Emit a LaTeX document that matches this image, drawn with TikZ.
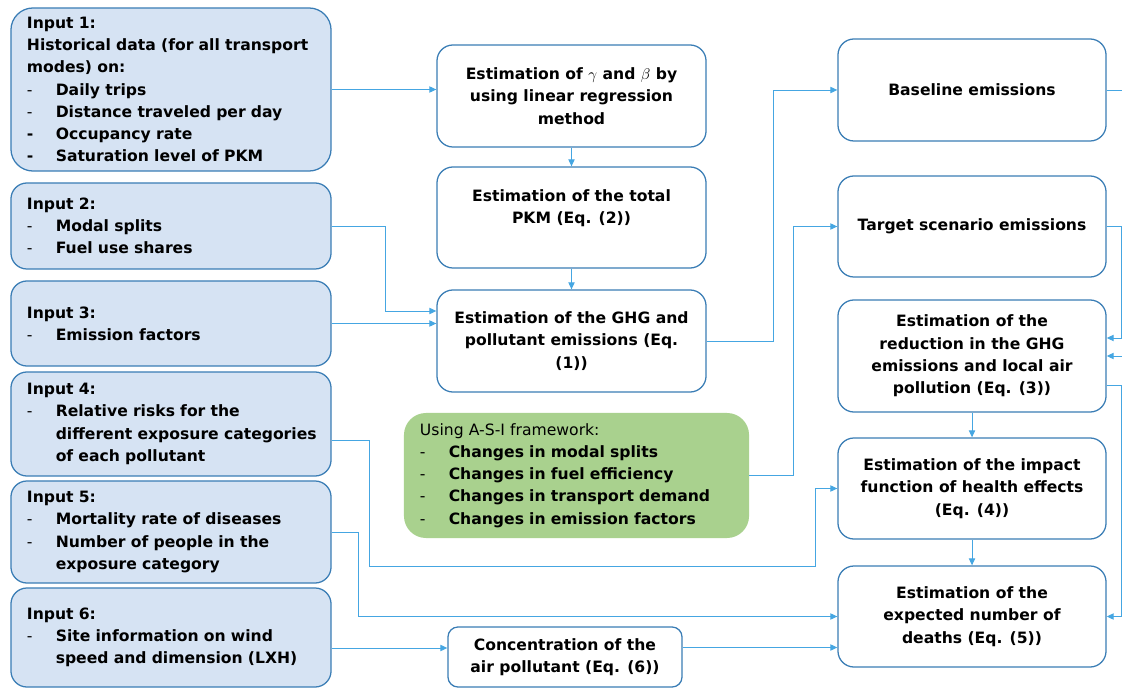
\documentclass[tikz,border=0pt]{standalone}
\usepackage{fontspec}
\setmainfont{DejaVu Sans}
\usetikzlibrary{arrows.meta}
\definecolor{InputFill}{HTML}{D6E3F3}
\definecolor{BoxLine}{HTML}{3A7DB5}
\definecolor{LinkBlue}{HTML}{45A6E2}
\definecolor{AsiFill}{HTML}{A9D18E}
\newcommand{\itm}{\makebox[0.72cm][l]{\mdseries -}}
\newcommand{\itmb}{\makebox[0.72cm][l]{-}}
\newcommand{\itmgap}{\hspace*{0.72cm}}

\begin{document}
\begin{tikzpicture}[x=0.025cm,y=-0.025cm,
  every node/.style={font=\fontsize{11.1}{15.8}\selectfont\bfseries},
  inbox/.style={draw=BoxLine,line width=0.9pt,fill=InputFill,rounded corners=0.4cm,
    text width=7.2cm,inner xsep=0.4cm,inner ysep=0pt,align=left,minimum width=8cm},
  stepbox/.style={draw=BoxLine,line width=0.9pt,fill=white,rounded corners=0.4cm,
    align=center,inner sep=0pt},
  asibox/.style={fill=AsiFill,rounded corners=0.55cm,text width=7.825cm,
    inner xsep=0.4cm,inner ysep=0pt,align=left},
  link/.style={draw=LinkBlue,line width=0.7pt,-{Triangle[length=5pt,width=4.5pt]}}]
  \useasboundingbox (0,0) rectangle (1122,688);
  \clip (0,0) rectangle (1122,688);

  \node[inbox,rounded corners=0.55cm,minimum height=4.075cm] (in1) at (171,89.5)
    {Input 1:\\\mbox{Historical data (for all transport}\\modes) on:\\
     \itm Daily trips\\\itm Distance traveled per day\\
     \itmb Occupancy rate\\\itmb Saturation level of PKM};
  \node[inbox,minimum height=2.15cm] (in2) at (171,226)
    {Input 2:\\\itm Modal splits\\\itm Fuel use shares};
  \node[inbox,minimum height=2.125cm] (in3) at (171,323.5)
    {Input 3:\\\itm Emission factors};
  \node[inbox,minimum height=2.6cm] (in4) at (171,424)
    {Input 4:\\\itm Relative risks for the\\\mbox{\itmgap different exposure categories}\\
     \itmgap of each pollutant};
  \node[inbox,minimum height=2.55cm] (in5) at (171,532)
    {Input 5:\\\mbox{\itm Mortality rate of diseases}\\\itm Number of people in the\\
     \itmgap exposure category};
  \node[inbox,minimum height=2.475cm] (in6) at (171,637.5)
    {Input 6:\\\itm Site information on wind\\\mbox{\itmgap speed and dimension (LXH)}};

  \node[stepbox,minimum width=6.725cm,minimum height=2.55cm] (gam) at (571.5,96)
    {Estimation of $\gamma$ and $\beta$ by\\using linear regression\\method};
  \node[stepbox,minimum width=6.725cm,minimum height=2.525cm] (pkm) at (571.5,217.5)
    {Estimation of the total\\PKM (Eq. (2))\\\mbox{}};
  \node[stepbox,minimum width=6.725cm,minimum height=2.55cm] (ghg) at (571.5,341)
    {Estimation of the GHG and\\pollutant emissions (Eq.\\(1))};
  \node[asibox,minimum width=8.625cm,minimum height=3.125cm] (asi) at (576.5,475.5)
    {{\mdseries Using A-S-I framework:}\\\itm Changes in modal splits\\
     \itm Changes in fuel efficiency\\\mbox{\itm Changes in transport demand}\\
     \mbox{\itm Changes in emission factors}};
  \node[stepbox,rounded corners=0.25cm,minimum width=5.85cm,minimum height=1.5cm] (con)
    at (565,657) {Concentration of the\\air pollutant (Eq. (6))};

  \node[stepbox,minimum width=6.7cm,minimum height=2.55cm] (base) at (972,90)
    {Baseline emissions};
  \node[stepbox,minimum width=6.7cm,minimum height=2.525cm] (tgt) at (972,226.5)
    {Target scenario emissions};
  \node[stepbox,minimum width=6.7cm,minimum height=2.8cm] (red) at (972,356)
    {Estimation of the\\reduction in the GHG\\emissions and local air\\pollution (Eq. (3))};
  \node[stepbox,minimum width=6.7cm,minimum height=2.525cm] (imp) at (972,488.5)
    {Estimation of the impact\\function of health effects\\(Eq. (4))};
  \node[stepbox,minimum width=6.7cm,minimum height=2.525cm] (dth) at (972,616.5)
    {Estimation of the\\expected number of\\deaths (Eq. (5))};

  \coordinate (j2) at (385,311);
  \coordinate (k4) at (815,566);
  \coordinate (c6) at ([yshift=0.225cm]con.west);
  \coordinate (d6) at ([yshift=-0.775cm]dth.west);

  \draw[link] (in1.east) -- (in1.east -| gam.west);
  \draw[link] (gam.south) -- (pkm.north);
  \draw[link] (pkm.south) -- (ghg.north);
  \draw[link] (in2.east) -| (j2) -- (j2 -| ghg.west);
  \draw[link] (in3.east) -- (in3.east -| ghg.west);
  \draw[link] (ghg.east) -- ++(67,0) |- (base.west);
  \draw[link] (asi.east) -- ++(44,0) |- (tgt.west);
  \draw[link] (base.east) -- ++(40,0) |- (red.east);
  \draw[link] (tgt.east) -- ++(15,0) |- ([yshift=0.45cm]red.east);
  \draw[link] ([yshift=-0.725cm]red.east) -- ++(15,0) |- (dth.east);
  \draw[link] (red.south) -- (imp.north);
  \draw[link] (imp.south) -- (dth.north);
  \draw[link] ([yshift=-0.4cm]in4.east) -- ++(38,0) |- (k4) |- (imp.west);
  \draw[link] (in5.east) -- ++(27,0) |- (dth.west);
  \draw[link] (c6 -| in6.east) -- (c6);
  \draw[link] (d6 -| con.east) -- (d6);
\end{tikzpicture}
\end{document}
